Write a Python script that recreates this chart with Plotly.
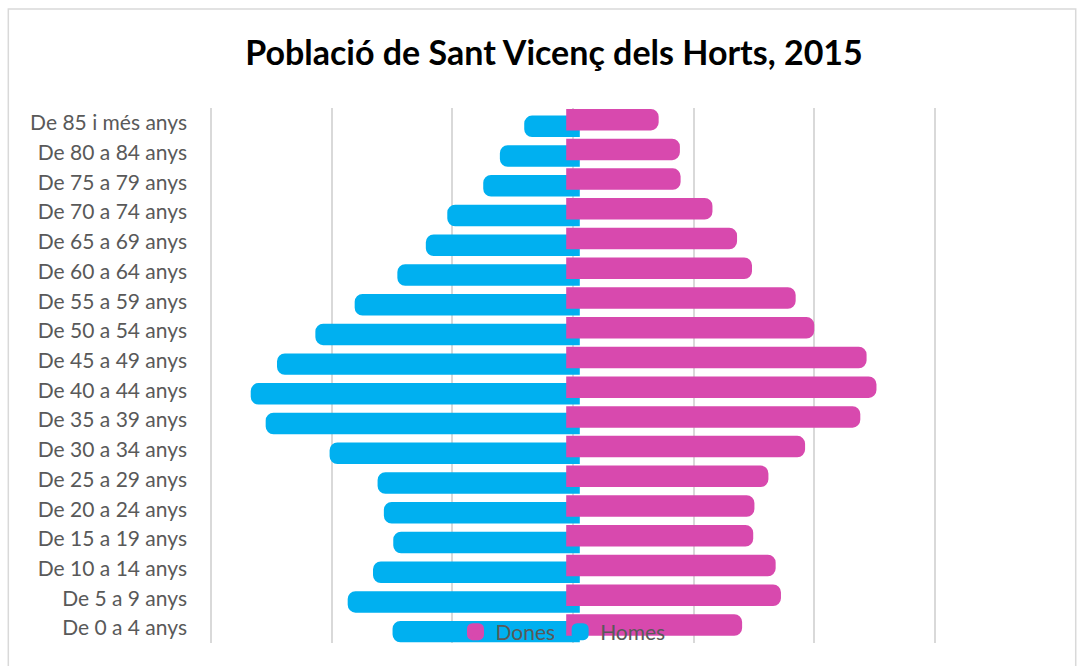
import plotly.graph_objects as go

categories = [
    "De 0 a 4 anys", "De 5 a 9 anys", "De 10 a 14 anys", "De 15 a 19 anys",
    "De 20 a 24 anys", "De 25 a 29 anys", "De 30 a 34 anys", "De 35 a 39 anys",
    "De 40 a 44 anys", "De 45 a 49 anys", "De 50 a 54 anys", "De 55 a 59 anys",
    "De 60 a 64 anys", "De 65 a 69 anys", "De 70 a 74 anys", "De 75 a 79 anys",
    "De 80 a 84 anys", "De 85 i més anys",
]
homes = [720, 906, 801, 717, 756, 782, 981, 1246, 1308, 1199, 1040, 877,
         700, 582, 493, 344, 275, 174]
dones = [673, 834, 812, 719, 724, 782, 934, 1163, 1230, 1189, 972, 895,
         714, 652, 550, 418, 415, 327]
grid_values = [-1500, -1000, -500, 0, 500, 1000, 1500]

BLUE = "#00B0F0"
PINK = "#D849AE"
FONT = "Lato"

fig = go.Figure()
fig.add_trace(go.Bar(
    y=categories, x=[-v for v in homes], customdata=homes, name="Homes",
    orientation="h", width=0.265, offset=-0.25,
    marker=dict(color=BLUE, line=dict(color=BLUE, width=13.6), cornerradius=1),
    hovertemplate="%{y}: %{customdata}<extra>Homes</extra>",
))
fig.add_trace(go.Bar(
    y=categories, x=dones, name="Dones",
    orientation="h", width=0.265, offset=-0.025,
    marker=dict(color=PINK, line=dict(color=PINK, width=13.6), cornerradius=1),
    hovertemplate="%{y}: %{x}<extra>Dones</extra>",
))

# plot area: x from 209.8 to 936.2 px for range +-1505 (so +-1500 at 211/935)
L, R_EDGE, T, B = 209.8, 936.2, 108, 643
fig.update_layout(
    width=1078, height=666,
    margin=dict(l=L, r=1078 - R_EDGE, t=T, b=666 - B),
    paper_bgcolor="white", plot_bgcolor="white",
    barmode="overlay",
    title=dict(text="<b>Població de Sant Vicenç dels Horts, 2015</b>",
               x=554 / 1078, xanchor="center", xref="container",
               y=1 - 53 / 666, yanchor="middle", yref="container",
               font=dict(family=FONT, size=34, color="black")),
    xaxis=dict(range=[-1505, 1505], tickvals=grid_values,
               showticklabels=False, showgrid=True, gridcolor="#D9D9D9", gridwidth=1.5,
               zeroline=False, showline=False, fixedrange=True),
    yaxis=dict(type="category", categoryorder="array", categoryarray=categories,
               showgrid=False, showline=False, zeroline=False, ticks="",
               ticklabelstandoff=22,
               tickfont=dict(family=FONT, size=21, color="#595959")),
    legend=dict(orientation="h", x=(563 - L) / (R_EDGE - L), xanchor="center",
                y=(B - 632) / (B - T), yanchor="middle",
                traceorder="reversed", bgcolor="rgba(0,0,0,0)",
                font=dict(family=FONT, size=21, color="#595959")),
    showlegend=True,
    shapes=[dict(type="rect", xref="paper", yref="paper",
                 x0=(8 - L) / (R_EDGE - L), x1=(1076 - L) / (R_EDGE - L),
                 y0=(B - 680) / (B - T), y1=(B - 9) / (B - T),
                 line=dict(color="#D9D9D9", width=1.5), layer="below")],
)

fig.write_html("out.html", config={"displayModeBar": False},
               post_script="document.body.style.margin='0px';")
